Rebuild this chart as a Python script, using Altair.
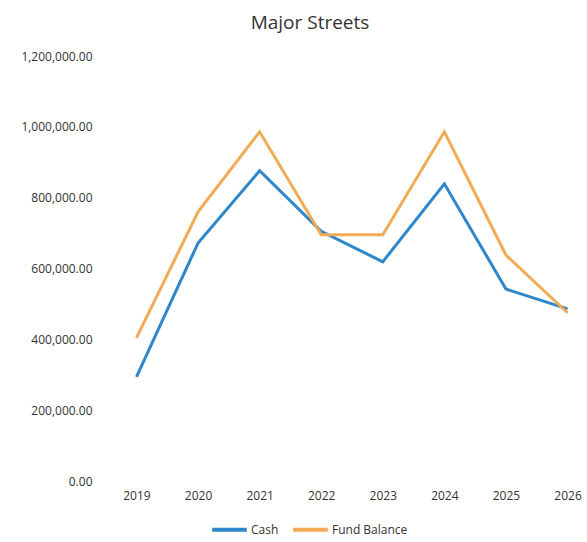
import altair as alt
import pandas as pd

years = ["2019", "2020", "2021", "2022", "2023", "2024", "2025", "2026"]
cash = [294000, 672000, 876000, 705000, 619000, 839000, 542000, 486000]
fund_balance = [404000, 760000, 986000, 695000, 695000, 986000, 638000, 475000]
series_names = ["Cash", "Fund Balance"]
y_ticks = [0, 200000, 400000, 600000, 800000, 1000000, 1200000]

rows = []
for name, vals in zip(series_names, [cash, fund_balance]):
    for yr, v in zip(years, vals):
        rows.append({"Year": yr, "Value": v, "Series": name})
df = pd.DataFrame(rows)

FONT = "Open Sans"

chart = alt.Chart(df).mark_line(strokeWidth=3).encode(
    x=alt.X("Year:O", sort=years,
            scale=alt.Scale(type="point", padding=0.235),
            axis=alt.Axis(title=None, labelAngle=0, domain=False, ticks=False,
                          labelPadding=9, labelFontSize=12, labelColor="#333333",
                          labelFont=FONT)),
    y=alt.Y("Value:Q", scale=alt.Scale(domain=[0, 1200000], nice=False),
            axis=alt.Axis(title=None, values=y_ticks, format=",.2f", domain=False,
                          ticks=False, grid=False, labelPadding=30, labelFontSize=12,
                          labelColor="#333333", labelFont=FONT)),
    color=alt.Color("Series:N",
                    scale=alt.Scale(domain=series_names, range=["#2E86CB", "#F2AB55"]),
                    legend=alt.Legend(title=None, orient="none", direction="horizontal",
                                      legendX=88, legendY=454, symbolType="stroke",
                                      symbolSize=1200, symbolStrokeWidth=4,
                                      labelFontSize=12, labelFont=FONT,
                                      labelColor="#333333", columnPadding=6,
                                      labelOffset=2)),
    order=alt.Order("Year:O"),
).properties(
    width=460,
    height=425,
    title=alt.TitleParams("Major Streets", fontSize=19, font=FONT, fontWeight="normal",
                          color="#333333", anchor="middle", dx=-42, offset=17),
    autosize=alt.AutoSizeParams(type="none"),
    padding={"left": 122, "top": 56, "right": 5, "bottom": 61},
).configure_view(stroke=None)

chart.save("out.html", embed_options={"renderer": "svg", "actions": False})
